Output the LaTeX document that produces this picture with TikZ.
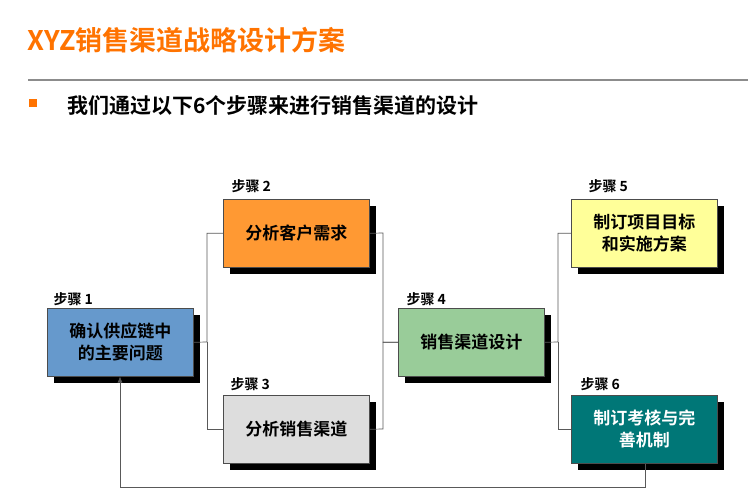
\documentclass[tikz,border=0pt]{standalone}
\usepackage{fontspec}
\usetikzlibrary{arrows.meta}
\newfontfamily\cjk{Noto Sans CJK SC}
\newfontfamily\cjkb{Noto Sans CJK SC Bold}
\setmainfont{Liberation Sans}
\begin{document}
\begin{tikzpicture}[x=1pt,y=-1pt,
  stepbox/.style={draw=black!70,line width=0.6pt,minimum width=146pt,minimum height=68pt,anchor=north west,inner sep=0pt,align=center,font=\cjkb\fontsize{17}{22}\selectfont},
  shadowbox/.style={fill=black,minimum width=146pt,minimum height=68pt,anchor=north west,inner sep=0pt},
  steplbl/.style={anchor=west,font=\cjkb\fontsize{14}{16}\selectfont},
  conn/.style={draw=black!65,line width=0.7pt}]
\useasboundingbox (0,0) rectangle (748,500);
\node[anchor=west,text=orange!90!red,font=\cjkb\fontsize{27}{31}\selectfont] (title) at (24,40) {XYZ销售渠道战略设计方案};
\draw[black!45,line width=1.2pt] (28,80) -- (748,80);
\fill[orange!90!red] (29,99) rectangle (37,107);
\node[anchor=west,font=\cjkb\fontsize{21}{24}\selectfont] (sub) at (64,105) {我们通过以下6个步骤来进行销售渠道的设计};
\foreach \x/\y in {47/308,223/199,223/395,398/308,571/199,571/395}
  \node[shadowbox] at (\x+7,\y+7) {};
\node[stepbox,fill={rgb,255:red,102;green,153;blue,204}] (b1) at (47,308) {确认供应链中\\的主要问题};
\node[stepbox,fill={rgb,255:red,255;green,153;blue,51}] (b2) at (223,199) {分析客户需求};
\node[stepbox,fill={rgb,255:red,221;green,221;blue,221}] (b3) at (223,395) {分析销售渠道};
\node[stepbox,fill={rgb,255:red,153;green,204;blue,153}] (b4) at (398,308) {销售渠道设计};
\node[stepbox,fill={rgb,255:red,255;green,255;blue,153}] (b5) at (571,199) {制订项目目标\\和实施方案};
\node[stepbox,fill={rgb,255:red,0;green,119;blue,119},text=white] (b6) at (571,395) {制订考核与完\\善机制};
\node[steplbl] at (50,299) {步骤 1};
\node[steplbl] at (228,186) {步骤 2};
\node[steplbl] at (227,384) {步骤 3};
\node[steplbl] at (403,299) {步骤 4};
\node[steplbl] at (585,186) {步骤 5};
\node[steplbl] at (577,384) {步骤 6};
\draw[conn] (b1.east) -- (207,342) |- (b2.west);
\draw[conn] (207,342) |- (b3.west);
\draw[conn] (b2.east) -- (383,233) |- (b4.west);
\draw[conn] (b3.east) -- (383,429) |- (b4.west);
\draw[conn] (b4.east) -- (558,342) |- (b5.west);
\draw[conn] (558,342) |- (b6.west);
\coordinate (c1) at (645,487);
\coordinate (c2) at (120,376.5);
\draw[conn,-{Latex[length=6pt,width=5pt]}] (b6.south -| c1) -- (c1) -- (120,487) -- (c2);
\end{tikzpicture}
\end{document}
